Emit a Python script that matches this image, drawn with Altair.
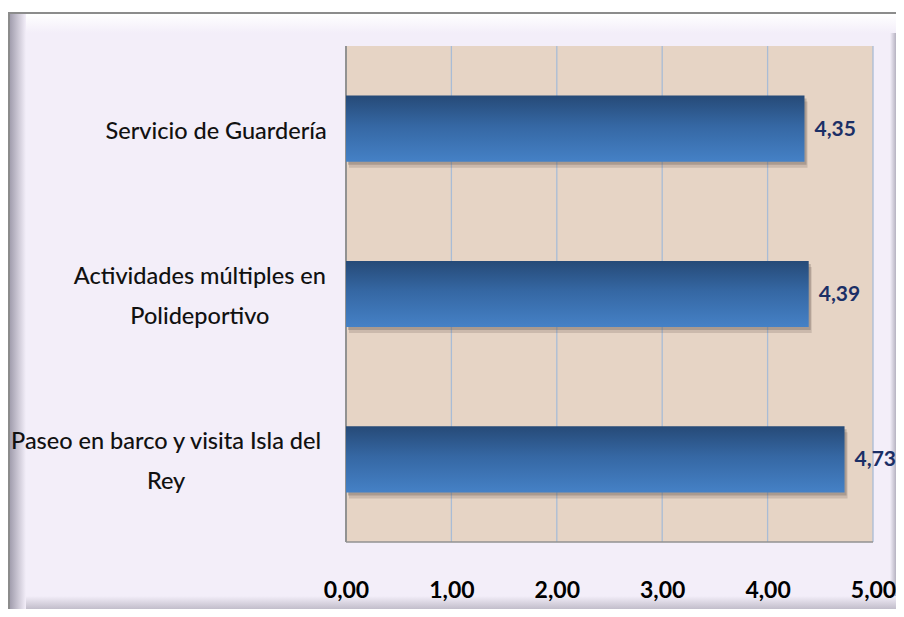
import altair as alt
import pandas as pd

# ---------------- data ----------------
categories = [
    "Servicio de Guardería",
    "Actividades múltiples en Polideportivo",
    "Paseo en barco y visita Isla del Rey",
]
label_lines = [
    "Servicio de Guardería",
    "Actividades múltiples en|Polideportivo",
    "Paseo en barco y visita Isla del|Rey",
]
values = [4.35, 4.39, 4.73]
x_ticks = [0, 1, 2, 3, 4, 5]
grid_ticks = [1, 2, 3, 4, 5]

# ---------------- layout ----------------
W, H = 527, 496
LAVENDER = "#F3EEF9"
TAN = "#E6D4C5"
GRID = "#A9BCD6"
BORDER = "#929292"
NAVY = "#1B2F66"


def char_w(c):
    if c == " ":
        return 0.3
    if c in "iílItrjf,.":
        return 0.5
    return 1.0


def eff_len(text):
    return max(sum(char_w(c) for c in line) for line in text.split("|"))


df = pd.DataFrame({"cat": categories, "label": label_lines, "value": values})
df["eff"] = [eff_len(l) for l in label_lines]
df["nlines"] = [len(l.split("|")) for l in label_lines]

one = alt.Data(values=[{}])

xscale = alt.Scale(domain=[0, 5], nice=False, zero=True)
yscale = alt.Scale(domain=categories, paddingInner=0.6, paddingOuter=0.3)


def grad(c1, c2, vertical=True):
    stops = [alt.GradientStop(color=c1, offset=0), alt.GradientStop(color=c2, offset=1)]
    if vertical:
        return alt.Gradient(gradient="linear", stops=stops, x1=0, x2=0, y1=0, y2=1)
    return alt.Gradient(gradient="linear", stops=stops, x1=0, x2=1, y1=0, y2=0)


# outer frame
frame = alt.Chart(one).mark_rect(fill=LAVENDER, stroke="#8C8C8C", strokeWidth=2).encode(
    x=alt.value(-337), x2=alt.value(560), y=alt.value(-33), y2=alt.value(570))
bevel_top = alt.Chart(one).mark_rect(fill=grad("#FFFFFF", LAVENDER)).encode(
    x=alt.value(-336), x2=alt.value(559), y=alt.value(-32), y2=alt.value(-13))
bevel_left = alt.Chart(one).mark_rect(fill=grad("#A29EAE", LAVENDER, vertical=False)).encode(
    x=alt.value(-336), x2=alt.value(-320), y=alt.value(-32), y2=alt.value(569))
bevel_bottom = alt.Chart(one).mark_rect(fill=grad(LAVENDER, "#ABA7B5")).encode(
    x=alt.value(-320), x2=alt.value(559), y=alt.value(550), y2=alt.value(569))
bevel_right = alt.Chart(one).mark_rect(fill=grad(LAVENDER, "#A29EAE", vertical=False)).encode(
    x=alt.value(544), x2=alt.value(552), y=alt.value(-13), y2=alt.value(550))

# plot background
plot_bg = alt.Chart(one).mark_rect(fill=TAN).encode(
    x=alt.value(0), x2=alt.value(W), y=alt.value(0), y2=alt.value(H))

grid = alt.Chart(pd.DataFrame({"t": grid_ticks})).mark_rule(color=GRID, strokeWidth=1.3).encode(
    x=alt.X("t:Q", scale=xscale, axis=None), y=alt.value(0), y2=alt.value(H))

left_edge = alt.Chart(one).mark_rule(color=BORDER, strokeWidth=2).encode(
    x=alt.value(0), y=alt.value(0), y2=alt.value(H))
bottom_edge = alt.Chart(one).mark_rule(color=BORDER, strokeWidth=1.5).encode(
    x=alt.value(0), x2=alt.value(W), y=alt.value(H))

base = alt.Chart(df)

shadow1 = base.mark_bar(color="#5E524B", opacity=0.2, xOffset=3, yOffset=6).encode(
    x=alt.X("value:Q", scale=xscale, axis=None),
    y=alt.Y("cat:N", scale=yscale, axis=None))
shadow2 = base.mark_bar(color="#5E524B", opacity=0.3, xOffset=2, yOffset=3).encode(
    x=alt.X("value:Q", scale=xscale, axis=None),
    y=alt.Y("cat:N", scale=yscale, axis=None))

bar_fill = alt.Gradient(
    gradient="linear",
    stops=[alt.GradientStop(color="#264A77", offset=0),
           alt.GradientStop(color="#3567A3", offset=0.45),
           alt.GradientStop(color="#4581C6", offset=1)],
    x1=0, x2=0, y1=0, y2=1)

bars = base.mark_bar(fill=bar_fill).encode(
    x=alt.X("value:Q", scale=xscale,
            axis=alt.Axis(values=x_ticks, title=None, domain=False, ticks=False, grid=False,
                          labelExpr="replace(format(datum.value, '.2f'), '.', ',')",
                          labelFont="Lato", labelFontWeight="bold", labelFontSize=23,
                          labelColor="#000000", labelPadding=37, labelFlush=False,
                          labelOverlap=False, zindex=1)),
    y=alt.Y("cat:N", scale=yscale, axis=None))

value_text = base.transform_calculate(
    txt="replace(format(datum.value, '.2f'), '.', ',')"
).mark_text(align="left", baseline="middle", dx=10, dy=1, font="Lato", fontWeight="bold",
            fontSize=21, color=NAVY).encode(
    x=alt.X("value:Q", scale=xscale, axis=None),
    y=alt.Y("cat:N", scale=yscale, axis=None),
    text="txt:N")


def cat_layer(n, dy):
    return base.transform_filter(f"datum.nlines == {n}").transform_calculate(
        cx="-22 - datum.eff * 13.0 / 2"
    ).mark_text(align="center", baseline="middle", lineBreak="|", lineHeight=40, dy=dy,
                font="Lato", fontWeight=500, fontSize=23.5, color="#111111").encode(
        x=alt.X("cx:Q", scale=None, axis=None),
        y=alt.Y("cat:N", scale=yscale, axis=None),
        text="label:N")


cat_text_1 = cat_layer(1, 3)
cat_text_2 = cat_layer(2, -17)

chart = alt.layer(
    frame, bevel_top, bevel_left, bevel_bottom, bevel_right,
    plot_bg, grid, left_edge, bottom_edge,
    shadow1, shadow2, bars, value_text, cat_text_1, cat_text_2
).resolve_scale(x="independent").properties(
    width=W, height=H,
    padding={"left": 338, "top": 38, "right": 23, "bottom": 67},
    autosize=alt.AutoSizeParams(type="none"),
    background="#FFFFFF",
).configure_view(stroke=None)

chart.save("out.html", embed_options={"renderer": "svg", "actions": False})
